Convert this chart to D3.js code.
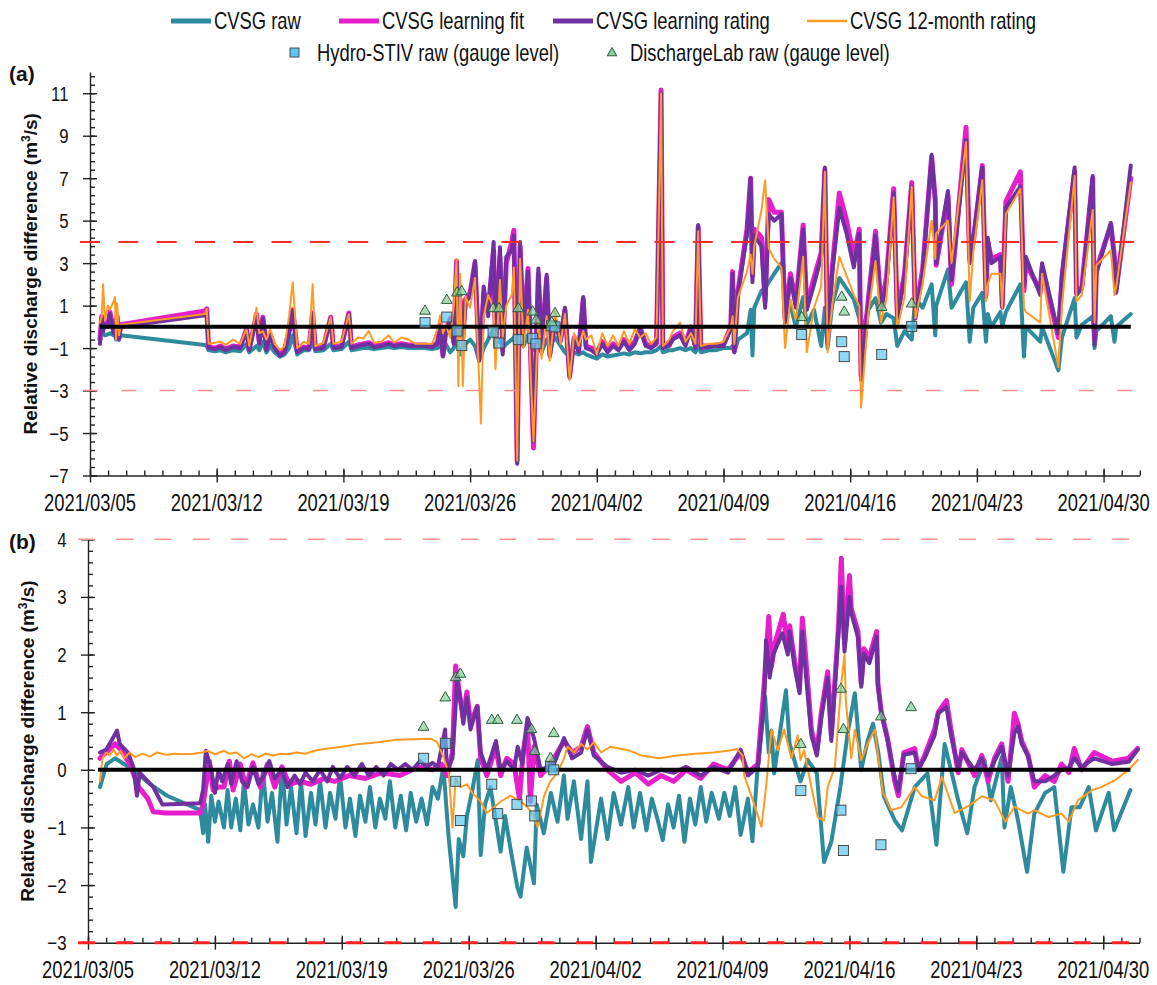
<!DOCTYPE html>
<html>
<head>
<meta charset="utf-8">
<script src="https://cdn.jsdelivr.net/npm/d3@7"></script>
<style>
  body { margin: 0; background: #fff; }
  svg { display: block; font-family: "Liberation Sans", Arial, sans-serif; }
</style>
</head>
<body>
<svg id="chart" width="1157" height="985"></svg>
<script>
// ---- data: time in days since 2021/03/05 00:00 ----

// panel (a): one shared time base for the four CVSG series
const daysA = [
  0.55,0.65,0.72,0.83,0.99,1.1,1.3,1.38,1.44,1.5,1.6,1.7,
  6.35,6.45,6.55,
  6.6,6.9,7.2,7.5,7.9,8.3,8.65,8.8,9.2,9.35,9.55,9.75,9.95,10.2,10.5,10.75,11.0,11.2,11.45,11.8,12.1,12.3,12.45,12.9,13.3,13.45,13.9,14.3,14.45,14.8,15.1,15.4,15.7,16.1,16.5,16.8,17.2,17.6,18.0,18.5,18.9,
  19.2,19.35,19.5,19.65,
  19.9,20.1,20.25,20.35,20.45,20.6,20.75,21.0,21.27,21.5,21.6,21.75,22.0,22.3,22.4,22.65,22.8,23.0,23.3,23.42,23.6,23.76,23.95,24.2,24.5,24.77,24.95,25.23,25.4,25.7,26.0,26.24,26.5,26.75,27.0,27.25,27.4,
  27.7,28.0,28.3,28.6,28.9,29.2,29.5,29.8,30.1,30.4,30.7,31.0,31.3,31.55,31.65,32.0,32.2,32.6,32.9,33.2,33.45,33.6,33.75,34.2,34.6,35.0,
  35.4,35.5,35.6,35.8,36.3,36.5,36.6,36.7,37.1,37.3,37.5,37.8,38.2,38.4,38.7,39.0,39.4,39.6,40.0,40.4,40.6,40.75,41.0,41.4,41.8,42.2,42.5,42.6,43.0,43.4,43.7,44.0,44.4,44.6,45.0,45.4,45.6,46.0,
  46.5,46.7,46.75,47.4,47.6,48.4,48.6,48.8,49.3,49.5,49.6,49.8,50.3,50.4,50.6,51.4,51.6,51.7,52.5,52.6,53.5,53.7,54.4,54.5,54.8,55.4,55.5,55.6,56.4,56.6,56.7,57.5
];
const rawA = [
  -0.3,-0.2,-0.3,-0.4,-0.35,-0.3,-0.4,-0.35,-0.6,-0.4,-0.6,-0.4,
  -0.85,-0.9,-1.1,
  -1.1,-1.15,-1.1,-1.2,-1.1,-1.15,-0.8,-1.2,-0.9,-1.1,-0.7,-1.2,-0.9,-1.2,-1.4,-1.3,-1.0,-0.4,-1.3,-1.1,-1.1,-0.7,-1.15,-1.1,-0.8,-1.1,-1.05,-0.7,-1.1,-1.05,-1.0,-1.0,-1.05,-1.0,-0.95,-1.0,-0.95,-1.0,-1.0,-1.0,-1.05,
  -1.0,-0.9,-1.1,-0.8,
  -1.2,-1.0,-0.4,-0.9,-1.3,-1.1,-0.8,-0.6,-0.9,-1.6,-1.4,-1.0,-0.6,-0.1,-0.8,-0.6,-1.0,-0.8,-0.6,-0.5,-1.2,-0.7,-0.9,-0.4,-1.1,-0.9,-1.2,-0.6,-0.9,-0.5,-0.9,-1.2,-1.4,-1.2,-1.3,-1.2,-1.3,
  -1.4,-1.5,-1.3,-1.4,-1.35,-1.3,-1.25,-1.3,-1.2,-1.25,-1.2,-1.2,-1.1,-0.9,-1.2,-1.1,-1.1,-1.0,-1.1,-1.0,-1.2,-0.9,-1.2,-1.1,-1.1,-1.0,
  -1.0,-0.9,-1.2,-0.6,-0.3,0.8,-1.35,0.9,1.7,1.8,2.1,2.5,3.0,1.6,1.0,0.0,1.4,0.1,0.8,-0.9,0.9,-1.0,1.0,2.3,1.8,1.3,0.4,-0.3,0.8,1.35,0.2,0.6,0.4,-0.9,-0.2,-0.6,1.35,0.9,
  2.0,-0.4,1.0,2.7,0.9,2.1,-0.7,0.9,1.6,-0.7,0.6,0.0,0.7,0.0,0.7,2.0,-1.4,0.0,-0.7,0.0,-2.05,-0.5,1.35,-0.5,0.1,0.5,-1.0,-0.2,0.5,-0.7,0.0,0.6
];
const fitA = [
  -0.6,0.5,-0.1,0.2,0.1,0.7,-0.2,0.3,-0.4,0.5,-0.5,0.1,
  0.75,0.85,-0.95,
  -0.95,-1.0,-0.9,-1.05,-0.9,-0.95,-0.1,-1.05,0.6,-0.7,0.45,-1.0,-0.35,-0.95,-1.3,-1.1,-0.2,0.8,-1.15,-0.95,-1.0,0.65,-1.0,-0.95,0.45,-0.95,-0.9,0.65,-0.95,-0.85,-0.8,-0.75,-0.9,-0.85,-0.75,-0.85,-0.8,-0.85,-0.85,-0.85,-0.9,
  -0.75,0.1,-1.35,-0.25,
  0.4,-0.7,3.1,-0.4,1.3,-0.5,1.3,1.6,3.0,-1.5,-0.9,1.6,0.8,3.6,-0.8,3.3,-1.1,3.0,4.0,4.55,-6.3,3.8,-0.3,2.75,-5.7,2.5,-1.0,2.3,-1.3,0.3,-0.6,0.8,-2.3,-0.5,-1.1,1.3,-0.9,
  -1.0,-1.2,-0.7,-1.1,-0.8,-1.0,-0.6,-1.0,-0.7,-0.05,-0.8,-0.9,-0.75,11.15,-0.9,-0.85,-0.5,-0.3,-0.8,0.0,-0.9,4.7,-0.9,-0.9,-0.85,-0.85,
  0.0,2.6,-1.1,1.7,4.6,7.0,2.4,4.6,4.2,1.2,6.0,5.4,5.4,0.4,2.5,1.1,4.8,1.0,2.3,3.5,7.4,-0.6,2.7,6.3,5.0,3.3,4.6,-2.3,1.3,4.5,1.0,2.3,6.5,0.6,2.5,6.8,0.6,2.7,
  8.0,6.0,2.9,6.2,2.0,9.4,3.2,4.0,7.6,1.5,4.0,3.2,3.4,1.0,5.9,7.3,1.7,3.0,1.7,2.8,-0.5,2.3,7.3,1.6,1.9,7.0,-0.6,2.7,4.8,3.3,1.8,7.0
];
const ratingA = [
  -0.8,0.4,-0.2,0.1,0.0,0.6,-0.3,0.2,-0.5,0.4,-0.6,0.0,
  0.55,0.65,-1.0,
  -1.0,-1.05,-0.95,-1.1,-0.95,-1.0,-0.15,-1.1,0.5,-0.8,0.4,-1.1,-0.4,-1.0,-1.35,-1.2,-0.3,0.75,-1.2,-1.0,-1.05,0.6,-1.05,-1.0,0.4,-1.0,-0.95,0.6,-1.0,-0.9,-0.85,-0.8,-0.95,-0.9,-0.8,-0.9,-0.85,-0.9,-0.9,-0.9,-0.95,
  -0.8,0.0,-1.4,-0.3,
  0.3,-0.8,3.0,-0.5,1.2,-0.6,1.2,1.4,3.1,-1.6,-1.0,1.9,0.5,4.0,-1.0,3.75,-1.3,3.3,3.6,4.3,-6.45,4.0,-0.5,2.6,-5.4,2.75,-1.2,2.45,-1.4,0.2,-0.7,0.9,-2.4,-0.6,-1.2,1.4,-1.0,
  -1.1,-1.3,-0.8,-1.2,-0.9,-1.1,-0.7,-1.1,-0.8,-0.1,-0.9,-1.0,-0.8,11.0,-1.0,-0.9,-0.6,-0.4,-0.9,-0.1,-1.0,4.8,-1.0,-0.95,-0.9,-0.9,
  -0.1,2.5,-1.2,1.5,4.4,7.0,2.1,4.3,3.8,0.9,5.3,5.0,5.3,0.2,2.3,0.9,4.6,0.8,2.0,3.3,7.5,-0.8,2.5,5.6,4.4,2.8,4.4,-2.5,1.0,4.3,0.8,2.0,6.3,0.4,2.3,6.6,0.4,2.5,
  8.1,5.8,3.0,6.4,2.2,8.8,3.0,4.2,7.5,1.4,4.2,3.0,3.3,0.9,5.6,6.6,1.9,3.3,1.5,3.0,-0.3,2.5,7.5,1.5,1.8,7.1,-0.85,2.5,4.9,3.1,1.6,7.6
];
const month12A = [
  0.2,0.5,2.0,0.3,1.0,0.8,1.2,1.4,-0.6,1.1,-0.4,0.1,
  0.6,0.85,-0.8,
  -0.8,-0.75,-0.7,-0.85,-0.6,-0.8,-0.1,-0.9,0.9,-0.3,-0.2,-0.6,-0.1,-0.8,-1.1,-0.9,0.5,2.1,-1.0,-0.7,-0.8,2.0,-0.9,-0.75,0.45,-0.8,-0.7,0.6,-0.8,-0.5,-0.55,-0.2,-0.75,-0.7,-0.4,-0.75,-0.5,-0.6,-0.8,-0.8,-0.8,
  -0.1,0.55,-0.3,0.1,
  -0.5,1.0,3.2,-2.8,2.5,-2.8,1.4,0.9,2.3,-2.5,-4.55,0.5,1.5,0.9,-2.0,2.2,-0.5,1.0,1.5,2.8,-6.3,3.2,-1.0,0.8,-5.4,0.4,-1.5,0.5,-1.6,0.8,-0.8,0.6,-2.5,-0.3,-0.9,-0.2,-0.6,
  -0.4,-1.3,-0.3,-0.9,-0.4,-0.9,-0.2,-0.8,-0.1,-0.5,-0.3,-0.8,-0.5,11.0,-0.9,-0.6,-0.2,0.2,-0.7,-0.3,-0.8,4.5,-0.9,-0.8,-0.8,-0.7,
  0.0,0.5,-0.8,1.4,2.6,3.4,2.5,3.8,5.5,6.9,3.7,3.2,2.8,-1.0,1.3,0.3,3.3,-1.2,0.9,1.9,7.3,-1.2,1.0,3.3,2.4,1.5,1.0,-3.8,0.6,3.1,0.2,1.3,6.1,-0.1,1.4,6.6,0.4,2.0,
  5.0,3.2,4.4,5.0,3.0,8.7,1.2,3.5,6.9,1.2,2.0,2.5,2.5,0.9,5.3,6.5,0.9,0.7,0.2,2.5,-1.9,1.0,7.1,1.2,1.5,5.5,0.2,2.9,3.6,1.5,1.9,6.8
];

// panel (b): [day, value] pairs
const rawB = [
  [0.66,-0.3],[1.03,0.1],[1.49,0.2],[2.49,0.0],[3.43,-0.25],[4.36,-0.45],[6.19,-0.7],[6.35,-1.1],[6.46,-0.6],[6.63,-1.25],
  [6.8,-0.45],[7.0,-0.9],[7.2,-0.55],[7.5,-1.0],[7.7,-0.35],[7.9,-1.0],[8.15,-0.5],[8.4,-1.05],[8.6,-0.2],[8.85,-0.95],
  [9.1,-0.6],[9.4,-1.0],[9.65,0.0],[9.9,-0.9],[10.15,-0.4],[10.45,-1.25],[10.7,0.05],[10.95,-0.95],[11.2,-0.3],[11.5,-1.1],
  [11.75,-0.2],[12.0,-1.15],[12.3,-0.4],[12.55,-0.95],[12.8,-0.2],[13.1,-1.0],[13.35,-0.4],[13.65,-0.85],[13.9,-0.1],[14.2,-1.0],
  [14.45,-0.5],[14.75,-1.15],[15.0,-0.45],[15.3,-0.9],[15.55,-0.3],[15.85,-1.0],[16.1,-0.5],[16.4,-0.85],[16.65,-0.2],[16.95,-1.0],
  [17.25,-0.45],[17.55,-1.05],[17.8,-0.4],[18.1,-0.9],[18.4,-0.5],[18.7,-0.95],[19.0,-0.3],[19.3,-0.5],[19.6,0.05],
  [19.9,-1.2],[20.28,-2.38],[20.45,-1.2],[20.7,-1.5],[20.9,-0.8],[21.2,-0.35],[21.5,0.17],[21.66,-1.48],[21.9,-0.6],[22.2,-0.3],
  [22.5,-0.9],[22.76,-1.42],[23.0,-0.8],[23.35,-1.45],[23.68,-2.03],[23.86,-2.2],[24.2,-1.35],[24.6,-1.97],[24.75,-0.6],[25.14,-1.1],
  [25.53,-0.4],[25.9,-0.9],[26.25,-0.1],[26.45,-0.85],[26.8,-0.2],[27.2,-1.2],[27.55,-0.2],[27.74,-1.6],[28.3,-0.5],[28.65,-1.2],
  [29.0,-0.4],[29.4,-0.95],[29.8,-0.3],[30.1,-1.0],[30.45,-0.4],[30.8,-1.05],[31.1,-0.5],[31.45,-0.9],[31.7,-1.22],[32.0,-0.6],
  [32.3,-1.0],[32.6,-0.45],[32.9,-1.25],[33.2,-0.5],[33.5,-0.95],[33.8,-0.3],[34.1,-0.9],[34.4,-0.4],[34.8,-0.85],[35.1,-0.4],
  [35.4,-0.8],[35.7,-0.3],[36.0,-1.13],[36.4,-0.5],[36.65,-1.24],[36.9,-0.1],[37.35,1.27],[37.55,0.3],[37.7,0.68],[37.85,-0.06],
  [38.5,1.38],[38.7,0.45],[39.3,-0.2],[39.7,0.17],[40.2,-0.06],[40.6,-1.6],[41.0,-1.25],[41.5,-0.3],[41.9,0.63],[42.3,1.33],
  [42.65,0.0],[43.0,0.5],[43.3,0.8],[43.6,0.28],[43.9,-0.46],[44.5,-0.88],[44.9,-1.05],[45.6,-0.3],[46.3,-0.06],[46.8,-1.3],
  [47.25,0.45],[47.6,0.0],[48.0,-0.53],[48.5,-1.1],[48.9,-0.3],[49.45,0.17],[49.8,-0.53],[50.4,0.22],[50.55,-1.0],[50.9,-0.3],
  [51.3,-0.88],[51.8,-1.77],[52.2,-0.76],[52.8,-0.4],[53.3,-0.3],[53.8,-1.77],[54.25,-0.65],[54.7,-0.65],[55.2,-0.3],[55.6,-1.05],
  [56.3,-0.4],[56.6,-1.05],[57.5,-0.35]
];
const fitB = [
  [0.66,0.2],[1.0,0.3],[1.5,0.45],[1.8,0.35],[2.3,0.1],[2.8,-0.3],[3.3,-0.5],[3.6,-0.73],[4.3,-0.75],[6.19,-0.75],
  [6.35,-0.6],[6.7,0.15],[6.9,-0.35],[7.2,-0.3],[7.5,-0.3],[7.8,0.15],[8.0,-0.35],[8.4,0.1],[8.7,-0.3],[9.1,0.12],
  [9.5,-0.3],[9.9,0.1],[10.3,-0.3],[10.7,0.05],[11.1,-0.25],[11.7,-0.2],[12.3,-0.25],[13.0,-0.15],[13.6,-0.2],[14.4,-0.1],
  [15.3,-0.15],[16.2,-0.05],[17.2,-0.1],[18.2,0.05],[19.0,0.0],[19.5,0.1],[19.8,-0.1],[20.1,0.3],[20.28,1.8],[20.5,1.3],
  [20.7,0.9],[20.9,1.35],[21.1,0.8],[21.47,1.1],[21.66,0.2],[22.0,-0.1],[22.5,0.4],[22.76,-0.1],[23.1,0.2],[23.5,0.1],
  [23.8,-0.5],[24.0,0.3],[24.24,0.8],[24.4,-0.55],[24.6,0.4],[24.97,-0.1],[25.34,0.05],[25.7,0.2],[26.26,0.5],[26.7,0.3],
  [27.2,0.4],[27.55,0.75],[27.9,0.3],[28.65,0.0],[29.4,-0.2],[30.2,-0.05],[30.9,-0.25],[31.6,-0.1],[32.3,-0.2],[33.0,0.0],
  [33.8,-0.15],[34.5,0.1],[35.3,0.0],[36.0,0.3],[36.4,-0.05],[36.95,0.1],[37.3,1.5],[37.55,2.66],[37.7,1.8],[37.9,2.2],
  [38.35,2.7],[38.6,2.1],[38.7,2.5],[38.97,1.9],[39.25,1.4],[39.4,2.63],[39.55,2.1],[39.9,0.7],[40.2,0.3],[40.45,1.0],
  [40.8,1.7],[41.0,0.6],[41.4,2.5],[41.55,3.67],[41.73,2.2],[42.0,3.37],[42.1,2.8],[42.47,2.4],[42.65,1.5],[42.8,2.1],
  [43.1,1.95],[43.5,2.4],[43.57,1.5],[43.76,1.0],[44.1,0.55],[44.5,-0.2],[44.7,-0.45],[45.0,0.3],[45.6,0.37],[45.8,0.0],
  [46.15,0.25],[46.7,0.7],[46.9,1.0],[47.35,1.2],[47.6,0.7],[48.0,-0.05],[48.2,0.35],[48.9,-0.1],[49.3,0.25],[49.65,-0.2],
  [50.0,0.2],[50.4,0.45],[50.75,-0.2],[51.1,0.98],[51.3,0.8],[51.5,0.5],[51.86,0.25],[52.2,-0.3],[52.8,-0.1],[53.3,-0.2],
  [53.7,0.1],[54.1,-0.05],[54.4,0.37],[54.8,0.0],[55.5,0.3],[56.5,0.15],[57.4,0.2],[57.9,0.37]
];
const ratingB = [
  [0.66,0.3],[1.0,0.35],[1.28,0.5],[1.6,0.68],[1.75,0.45],[2.2,0.3],[2.5,0.05],[2.7,-0.45],[2.85,-0.05],[3.6,-0.3],
  [4.1,-0.6],[6.19,-0.58],[6.35,-0.35],[6.5,0.33],[6.8,0.0],[7.0,-0.4],[7.2,0.0],[7.4,-0.2],[7.7,0.1],[7.9,-0.25],
  [8.2,0.15],[8.5,-0.2],[8.8,-0.3],[9.1,0.05],[9.4,-0.25],[9.7,-0.1],[10.0,0.15],[10.3,-0.15],[10.7,0.0],[11.0,-0.3],
  [11.4,-0.1],[11.7,-0.25],[12.0,-0.05],[12.4,-0.2],[12.8,0.0],[13.2,-0.2],[13.5,0.05],[13.9,-0.15],[14.3,0.05],[14.7,-0.1],
  [15.1,0.1],[15.5,-0.1],[15.9,0.05],[16.3,-0.1],[16.7,0.1],[17.1,0.0],[17.5,0.1],[17.9,0.0],[18.3,0.15],[18.7,0.05],
  [19.0,0.12],[19.3,0.05],[19.7,0.7],[19.8,0.0],[20.1,0.2],[20.37,1.55],[20.55,1.2],[20.7,0.8],[20.9,1.25],[21.1,0.7],
  [21.47,1.1],[21.66,0.3],[22.0,0.0],[22.5,0.5],[22.76,0.0],[23.1,0.15],[23.5,0.0],[23.7,0.4],[23.96,0.1],[24.24,0.9],
  [24.6,0.55],[24.97,0.0],[25.34,0.05],[25.7,0.1],[26.26,0.55],[26.7,0.2],[27.2,0.3],[27.55,0.7],[27.9,0.25],[28.65,0.05],
  [29.4,-0.05],[30.2,0.0],[30.9,-0.1],[31.6,0.0],[32.3,-0.05],[33.0,0.05],[33.8,-0.1],[34.5,0.05],[35.3,-0.05],[36.0,0.35],
  [36.4,-0.1],[36.95,0.05],[37.3,1.2],[37.4,2.25],[37.6,1.6],[37.8,2.0],[38.3,2.37],[38.6,2.0],[38.7,2.4],[38.97,1.79],
  [39.25,1.33],[39.4,2.4],[39.5,2.0],[39.9,0.6],[40.2,0.25],[40.45,0.9],[40.8,1.6],[41.0,0.5],[41.4,2.4],[41.55,3.18],
  [41.73,2.05],[42.0,3.0],[42.1,2.72],[42.47,2.3],[42.65,1.44],[42.8,2.02],[43.1,1.85],[43.5,2.31],[43.57,1.45],[43.76,0.98],
  [44.1,0.52],[44.5,-0.13],[44.7,-0.37],[45.0,0.26],[45.6,0.3],[45.8,0.03],[46.15,0.2],[46.7,0.6],[46.9,0.98],[47.35,1.09],
  [47.6,0.6],[48.0,0.03],[48.2,0.3],[48.9,0.0],[49.3,0.2],[49.65,-0.1],[50.0,0.15],[50.4,0.4],[50.75,-0.1],[51.1,0.64],
  [51.3,0.75],[51.5,0.45],[51.86,0.23],[52.2,-0.2],[52.8,-0.2],[53.3,-0.1],[53.7,0.0],[54.1,0.03],[54.4,0.2],[54.8,0.05],
  [55.5,0.2],[56.5,0.1],[57.4,0.14],[57.9,0.35]
];
const month12B = [
  [0.66,-0.2],[0.8,0.2],[1.0,0.3],[1.2,0.25],[1.4,0.35],[1.6,0.25],[1.8,0.33],[2.0,0.2],[2.3,0.3],[2.6,0.22],
  [3.0,0.28],[3.4,0.23],[3.8,0.3],[4.3,0.26],[4.8,0.28],[5.3,0.27],[5.8,0.28],[6.3,0.3],[6.6,0.33],[7.0,0.27],
  [7.5,0.33],[7.8,0.28],[8.2,0.3],[8.6,0.2],[9.0,0.27],[9.4,0.22],[9.8,0.28],[10.2,0.25],[10.6,0.28],[11.0,0.27],
  [11.5,0.3],[12.0,0.28],[12.5,0.33],[13.0,0.36],[14.0,0.4],[15.0,0.45],[16.0,0.48],[17.0,0.52],[18.0,0.53],[18.9,0.54],
  [19.26,0.48],[19.6,0.23],[19.9,-0.07],[20.0,-0.5],[20.1,-1.0],[20.28,-0.15],[20.55,-0.3],[20.9,-0.25],[21.2,-0.4],[21.66,-0.55],
  [22.0,-0.75],[22.4,-0.65],[22.76,-0.55],[23.3,-0.45],[23.87,-0.55],[24.24,-0.65],[24.6,-0.8],[24.8,-1.0],[25.16,-0.45],[25.5,-0.2],
  [25.9,-0.05],[26.26,0.2],[26.45,0.4],[26.8,0.3],[27.2,0.45],[27.55,0.35],[27.9,0.48],[28.3,0.3],[28.8,0.4],[29.9,0.33],
  [30.5,0.25],[31.5,0.2],[32.5,0.25],[33.5,0.28],[34.5,0.3],[35.3,0.33],[35.8,0.36],[36.1,0.25],[36.2,-0.1],[36.6,-0.46],
  [37.15,-0.99],[37.4,-0.3],[37.7,0.7],[38.05,0.34],[38.4,0.7],[38.8,0.2],[39.15,0.6],[39.3,0.17],[39.5,0.34],[39.9,-0.3],
  [40.25,-0.82],[40.6,-0.88],[40.8,-0.3],[41.2,0.05],[41.55,1.5],[41.73,2.0],[41.8,1.2],[42.1,0.2],[42.3,0.7],[42.65,0.17],
  [43.0,0.45],[43.4,0.7],[43.6,0.2],[43.85,-0.4],[44.3,-0.7],[44.86,-0.65],[45.6,-0.3],[46.0,-0.46],[46.7,-0.53],[47.1,-0.12],
  [47.8,-0.75],[48.5,-0.64],[49.3,-0.46],[50.0,-0.53],[50.6,-0.9],[51.1,-0.64],[51.86,-0.76],[52.2,-0.7],[52.97,-0.82],[53.7,-0.76],
  [54.1,-0.9],[54.6,-0.53],[55.4,-0.35],[55.9,-0.3],[56.65,-0.18],[57.4,0.0],[57.9,0.17]
];

// gauge-level point measurements (same values in both panels)
const stivDays  = [18.51,19.71,20.28,20.54,22.27,22.6,23.66,24.46,24.64,25.51,25.69,39.32,41.53,41.67,43.74,45.4];
const stivVals  = [0.2,0.46,-0.2,-0.88,-0.25,-0.76,-0.6,-0.54,-0.8,0.05,0.0,-0.36,-0.7,-1.4,-1.3,0.02];
const dlabDays  = [18.51,19.71,20.28,20.54,22.27,22.6,23.66,24.46,24.64,25.51,25.69,39.32,41.53,41.67,43.74,45.4];
const dlabVals  = [0.74,1.25,1.6,1.66,0.86,0.86,0.86,0.7,0.32,0.2,0.63,0.44,1.4,0.7,0.92,1.08];

const zeroSpan  = [0.55, 57.5];     // days covered by the black reference line
const limitSpan = [-0.55, 58];      // days covered by the red dashed limits
const limitVals = [4, -3];

const seriesNames = ['CVSG raw', 'CVSG learning fit', 'CVSG learning rating', 'CVSG 12-month rating'];
const markerNames = ['Hydro-STIV raw (gauge level)', 'DischargeLab raw (gauge level)'];

// ---- setup ----
const COL = { raw: '#2e8a9d', fit: '#e51fcb', rating: '#7030a0', m12: '#ff9a22' };
const START = Date.UTC(2021, 2, 5);
const toDate = d => new Date(START + d * 864e5);
const fmt = d3.utcFormat('%Y/%m/%d');
const SQUEEZE = 0.8;

const svg = d3.select('#chart');

function label(g, x, y, txt, size, anchor) {
  return g.append('text')
    .attr('transform', `translate(${x},${y}) scale(${SQUEEZE},1)`)
    .attr('text-anchor', anchor || 'start')
    .attr('font-size', size)
    .attr('fill', '#111')
    .text(txt);
}

const panelA = {
  tag: '(a)', tagY: 81, xr: [90, 1139.8], yr: [475.5, 72], dom: [-7, 12],
  major: d3.range(-7, 12, 2), minor: d3.range(-7, 12.01, 0.4), titleX: 37,
  limits: [
    { color: '#ff2a2a', w: 2, dash: '20,18.3', off: 0 },
    { color: '#ff8c8c', w: 1.5, dash: '15,23.3', off: -3 }
  ],
  series: [
    { data: daysA.map((d, i) => [d, rawA[i]]), color: COL.raw, w: 4 },
    { data: daysA.map((d, i) => [d, fitA[i]]), color: COL.fit, w: 5 },
    { data: daysA.map((d, i) => [d, ratingA[i]]), color: COL.rating, w: 4 },
    { data: daysA.map((d, i) => [d, month12A[i]]), color: COL.m12, w: 2 }
  ]
};
const panelB = {
  tag: '(b)', tagY: 549, xr: [88, 1139.5], yr: [942.7, 539.3], dom: [-3, 4],
  major: d3.range(-3, 4.01, 1), minor: d3.range(-3, 4.01, 0.2), titleX: 34,
  limits: [
    { color: '#ff9090', w: 1.5, dash: '17,21.3', off: 0 },
    { color: '#ff2020', w: 3, dash: '17,21.3', off: 0 }
  ],
  series: [
    { data: rawB, color: COL.raw, w: 4 },
    { data: fitB, color: COL.fit, w: 5 },
    { data: ratingB, color: COL.rating, w: 4 },
    { data: month12B, color: COL.m12, w: 2 }
  ]
};

function drawPanel(p) {
  const g = svg.append('g');
  const x = d3.scaleUtc().domain([toDate(0), toDate(58)]).range(p.xr);
  const y = d3.scaleLinear().domain(p.dom).range(p.yr);
  const y0 = y(p.dom[0]);

  // axes: outer major ticks with lines crossing, inner minor ticks
  const styleAxis = a => {
    a.attr('color', '#222');
    a.selectAll('line,path').attr('stroke-width', 1.4);
  };
  const weeks = d3.range(0, 57, 7).map(toDate);
  const days = d3.range(0, 59, 1).map(toDate);

  g.append('g').attr('transform', `translate(0,${y0})`)
    .call(d3.axisBottom(x).tickValues(weeks).tickSize(7).tickSizeOuter(0).tickFormat(''))
    .call(styleAxis);
  g.append('g').attr('transform', `translate(0,${y0})`)
    .call(d3.axisTop(x).tickValues(weeks).tickSize(7).tickFormat(''))
    .call(a => a.select('.domain').remove()).call(styleAxis);
  g.append('g').attr('transform', `translate(0,${y0})`)
    .call(d3.axisTop(x).tickValues(days).tickSize(5).tickFormat(''))
    .call(a => a.select('.domain').remove()).call(styleAxis);

  g.append('g').attr('transform', `translate(${p.xr[0]},0)`)
    .call(d3.axisLeft(y).tickValues(p.major).tickSize(7).tickSizeOuter(0).tickFormat(''))
    .call(styleAxis);
  g.append('g').attr('transform', `translate(${p.xr[0]},0)`)
    .call(d3.axisRight(y).tickValues(p.major).tickSize(7).tickFormat(''))
    .call(a => a.select('.domain').remove()).call(styleAxis);
  g.append('g').attr('transform', `translate(${p.xr[0]},0)`)
    .call(d3.axisRight(y).tickValues(p.minor).tickSize(5).tickFormat(''))
    .call(a => a.select('.domain').remove()).call(styleAxis);

  weeks.forEach(d => label(g, x(d), y0 + 35.5, fmt(d), 23, 'middle'));
  p.major.forEach(v => label(g, p.xr[0] - 21.5, y(v) + 7.5, d3.format('d')(v), 21, 'end'));

  // axis title and panel tag
  const t = g.append('text')
    .attr('transform', `translate(${p.titleX},${(p.yr[0] + p.yr[1]) / 2}) rotate(-90)`)
    .attr('text-anchor', 'middle').attr('font-weight', 'bold').attr('font-size', 19).attr('fill', '#111');
  t.append('tspan').text('Relative discharge difference (m');
  t.append('tspan').attr('font-size', 12).attr('baseline-shift', 'super').text('3');
  t.append('tspan').text('/s)');
  g.append('text').attr('x', 9).attr('y', p.tagY)
    .attr('font-weight', 'bold').attr('font-size', 21).attr('fill', '#111').text(p.tag);

  // series
  const line = d3.line().x(d => x(toDate(d[0]))).y(d => y(d[1]));
  p.series.forEach(s => {
    g.append('path').datum(s.data).attr('d', line)
      .attr('fill', 'none').attr('stroke', s.color).attr('stroke-width', s.w)
      .attr('stroke-linejoin', 'round').attr('stroke-linecap', 'round');
  });

  // zero reference
  g.append('path').datum(zeroSpan.map(d => [d, 0])).attr('d', line)
    .attr('fill', 'none').attr('stroke', '#000').attr('stroke-width', 4);

  // limit lines
  limitVals.forEach((v, i) => {
    const l = p.limits[i];
    g.append('path').datum(limitSpan.map(d => [d, v])).attr('d', line)
      .attr('fill', 'none').attr('stroke', l.color).attr('stroke-width', l.w)
      .attr('stroke-dasharray', l.dash).attr('stroke-dashoffset', l.off);
  });

  // point measurements
  g.selectAll('rect.stiv').data(stivDays.map((d, i) => [d, stivVals[i]])).join('rect')
    .attr('class', 'stiv')
    .attr('x', d => x(toDate(d[0])) - 5).attr('y', d => y(d[1]) - 5)
    .attr('width', 10).attr('height', 10)
    .attr('fill', '#5cc8f0').attr('fill-opacity', 0.7)
    .attr('stroke', '#4a4a4a').attr('stroke-width', 1);
  const tri = d3.symbol(d3.symbolTriangle, 50);
  g.selectAll('path.dlab').data(dlabDays.map((d, i) => [d, dlabVals[i]])).join('path')
    .attr('class', 'dlab')
    .attr('transform', d => `translate(${x(toDate(d[0]))},${y(d[1])})`)
    .attr('d', tri)
    .attr('fill', '#7fd09a').attr('fill-opacity', 0.7)
    .attr('stroke', '#2f5c3c').attr('stroke-width', 1);
}

drawPanel(panelA);
drawPanel(panelB);

// ---- legend ----
const leg = svg.append('g');
const row1 = [
  { x: 171, color: COL.raw, w: 5 },
  { x: 339, color: COL.fit, w: 5 },
  { x: 553, color: COL.rating, w: 5 },
  { x: 807, color: COL.m12, w: 2.5 }
];
row1.forEach((r, i) => {
  leg.append('line').attr('x1', r.x).attr('x2', r.x + 40).attr('y1', 21).attr('y2', 21)
    .attr('stroke', r.color).attr('stroke-width', r.w);
  label(leg, r.x + 43, 29, seriesNames[i], 23, 'start');
});
leg.append('rect').attr('x', 290).attr('y', 48).attr('width', 9).attr('height', 9)
  .attr('fill', '#5cc8f0').attr('stroke', '#4a4a4a').attr('stroke-width', 1);
label(leg, 317, 61, markerNames[0], 23, 'start');
leg.append('path').attr('transform', 'translate(612,53)').attr('d', d3.symbol(d3.symbolTriangle, 40))
  .attr('fill', '#7fd09a').attr('stroke', '#2f5c3c').attr('stroke-width', 1);
label(leg, 630, 61, markerNames[1], 23, 'start');
</script>
</body>
</html>
